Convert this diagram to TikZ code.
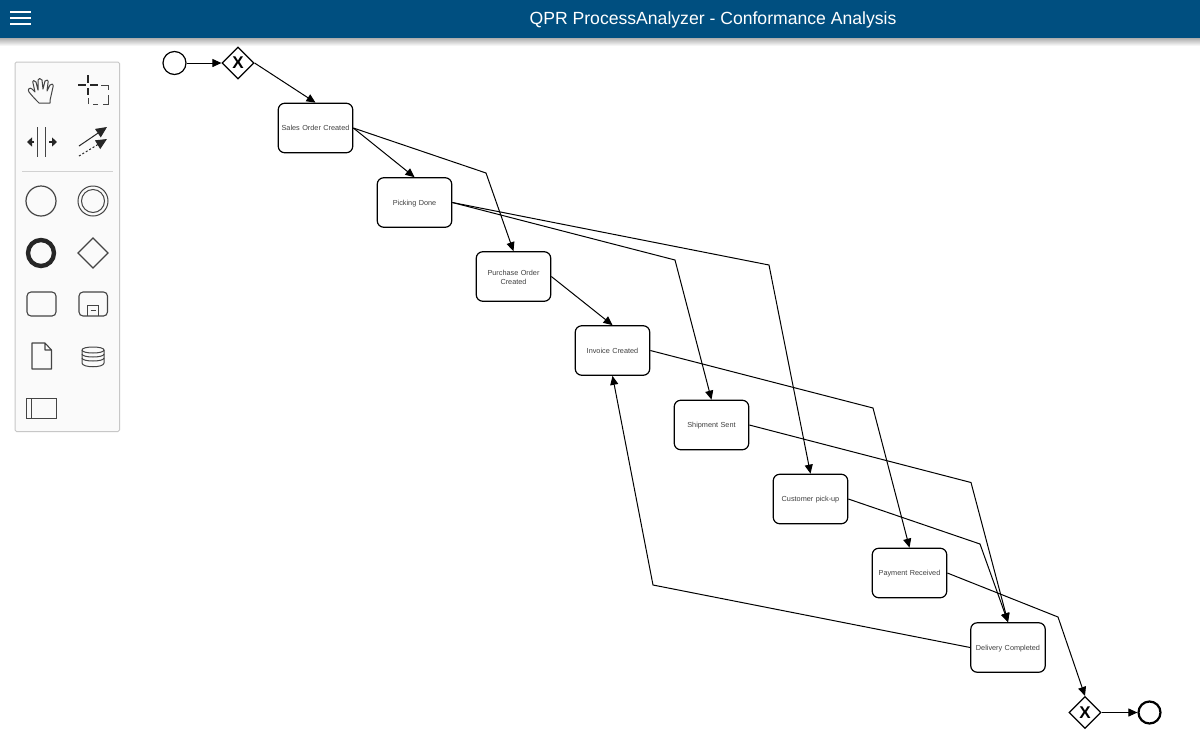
\documentclass[tikz,border=0pt]{standalone}
\usepackage{fontspec}
\setmainfont{Liberation Sans}
\usetikzlibrary{arrows.meta,shapes.geometric,shadows,calc}
\definecolor{hdr}{HTML}{004F80}
\definecolor{ic}{HTML}{444444}
\tikzset{
  x=1pt,y=-1pt,
  task/.style={draw=black,line width=1.2pt,rounded corners=6.5pt,fill=white,minimum width=74.5pt,minimum height=49.5pt,inner sep=1pt,align=center,text width=70pt,font=\fontsize{7.3}{9.3}\selectfont,text=black!75,execute at end node={\par\vspace*{-2pt}}},
  startev/.style={circle,draw=black,line width=1.2pt,fill=white,minimum size=23pt,inner sep=0pt},
  endev/.style={circle,draw=black,line width=2.2pt,fill=white,minimum size=22pt,inner sep=0pt},
  gw/.style={diamond,aspect=1,draw=black,line width=1.2pt,fill=white,minimum size=32pt,inner sep=0pt,font=\fontsize{17}{17}\selectfont\bfseries},
  flow/.style={draw=black,line width=1pt,-{Triangle[length=9pt,width=8pt]}},
  tool/.style={draw=ic,line width=1pt},
}
\begin{document}
\begin{tikzpicture}
\useasboundingbox (0,0) rectangle (1200,740);
\fill[white] (0,0) rectangle (1200,740);
% header
\shade[top color=black!32,bottom color=white] (0,38) rectangle (1200,46);
\fill[hdr] (0,0) rectangle (1200,38);
\node[text=white,font=\fontsize{17.6}{20}\selectfont,anchor=center] (title) at (713,19.5) {QPR ProcessAnalyzer - Conformance Analysis};
\foreach \y in {12,18,24} \draw[white,line width=2pt] (10,\y) -- (31,\y);
% toolbar
\draw[draw=black!22,fill=black!2,line width=1pt,rounded corners=1.5pt] (15,62) rectangle (119.5,431.5);
\draw[black!18,line width=1pt] (22,171) -- (113,171);
% hand
\draw[tool,line width=1pt,line join=round] (39,103) .. controls (36,100) and (33,97) .. (29,92) .. controls (27,89) and (30,87) .. (32,89) -- (35,92) -- (33,83) .. controls (32,80) and (35,80) .. (36,82) -- (38,90) -- (38,80) .. controls (38,78) and (41,78) .. (42,80) -- (43,89) -- (45,81) .. controls (46,79) and (49,80) .. (48,83) -- (47,91) -- (50,85) .. controls (51,83) and (54,84) .. (53,87) -- (51,96) .. controls (50,99) and (50,101) .. (50,103) -- cycle;
% lasso
\draw[black!85,line width=2.8pt] (78,85) -- (86,85) (90,85) -- (98,85) (88,75) -- (88,83) (88,88) -- (88,95);
\draw[ic,line width=1pt] (101,85) -- (108,85) -- (108,90) (108,95) -- (108,104) -- (103,104) (98,104) -- (93,104) (88,104) -- (88,98);
% space tool
\draw[tool] (37,127) -- (37,157) (45.5,127) -- (45.5,157);
\draw[black!85,line width=2.2pt,-{Triangle[length=5pt,width=9pt]}] (34,142) -- (27,142);
\draw[black!85,line width=2.2pt,-{Triangle[length=5pt,width=9pt]}] (49,142) -- (57,142);
% connect tool
\draw[black!85,line width=1pt,-{Triangle[length=11pt,width=10pt]}] (79,146) -- (107,127);
\draw[black!85,line width=1pt,dash pattern=on 2pt off 2pt,-{Triangle[length=11pt,width=10pt]}] (79,156) -- (107,139);
% palette
\draw[tool,line width=1.2pt] (41,201) circle (15);
\draw[tool,line width=1pt] (93,201) circle (15);
\draw[tool,line width=1pt] (93,201) circle (11.5);
\draw[black!85,line width=4.4pt] (41,253) circle (13);
\draw[tool,line width=1.1pt] (93,238) -- (108,253) -- (93,268) -- (78,253) -- cycle;
\draw[tool,line width=1.1pt,rounded corners=4pt] (27,292) rectangle (56,316);
\draw[tool,line width=1.1pt,rounded corners=4pt] (79,292) rectangle (107.5,316);
\draw[tool,line width=1pt] (87.5,316) -- (87.5,305) -- (98.5,305) -- (98.5,316);
\draw[tool,line width=1.6pt] (90.5,310.5) -- (95.5,310.5);
\draw[tool,line width=1.1pt,line join=round] (32,343) -- (45,343) -- (51.5,350) -- (51.5,369) -- (32,369) -- cycle (45,343) -- (45,350) -- (51.5,350);
\draw[tool,line width=1pt] (82,350) .. controls (82,346) and (104,346) .. (104,350) -- (104,363) .. controls (104,368) and (82,368) .. (82,363) -- cycle;
\draw[tool,line width=1pt] (82,350) .. controls (82,354) and (104,354) .. (104,350);
\draw[tool,line width=1pt] (82,354) .. controls (82,358) and (104,358) .. (104,354);
\draw[tool,line width=1pt] (82,358) .. controls (82,362) and (104,362) .. (104,358);
\draw[tool,line width=1pt] (26.5,398.5) rectangle (56,418);
\draw[tool,line width=1pt] (31,398.5) -- (31,418);
% waypoints
\coordinate (w1) at (486,173);
\coordinate (w2) at (675,260);
\coordinate (w3) at (769,265);
\coordinate (w4) at (873,408);
\coordinate (w5) at (971,482.5);
\coordinate (w6) at (980,544);
\coordinate (w7) at (1058,617);
\coordinate (w8) at (653,585);
% nodes
\node[startev] (start) at (174.5,63) {};
\node[gw] (g1) at (238,63) {X};
\node[task] (sales) at (315.5,128) {Sales Order Created};
\node[task] (pick) at (414.5,202.5) {Picking Done};
\node[task] (purch) at (513.5,276.5) {Purchase Order\\Created};
\node[task] (inv) at (612.5,350.5) {Invoice Created};
\node[task] (ship) at (711.5,425) {Shipment Sent};
\node[task] (cust) at (810.5,499) {Customer pick-up};
\node[task] (pay) at (909.5,573) {Payment Received};
\node[task] (del) at (1008,647.5) {Delivery Completed};
\node[gw] (g2) at (1085,712.5) {X};
\node[endev] (end) at (1149.5,712.5) {};
% connectors
\draw[flow] (start) -- (g1);
\draw[flow] (g1.east) -- (sales.north);
\draw[flow] (sales.east) -- (pick.north);
\draw[flow] (sales.east) -- (w1) -- (purch.north);
\draw[flow] (pick.east) -- (w2) -- (ship.north);
\draw[flow] (pick.east) -- (w3) -- (cust.north);
\draw[flow] (purch.east) -- (inv.north);
\draw[flow] (inv.east) -- (w4) -- (pay.north);
\draw[flow] (ship.east) -- (w5) -- (del.north);
\draw[flow] (cust.east) -- (w6) -- (del.north);
\draw[flow] (pay.east) -- (w7) -- (g2.north);
\draw[flow] (del.west) -- (w8) -- (inv.south);
\draw[flow] (g2) -- (end);
\end{tikzpicture}
\end{document}
